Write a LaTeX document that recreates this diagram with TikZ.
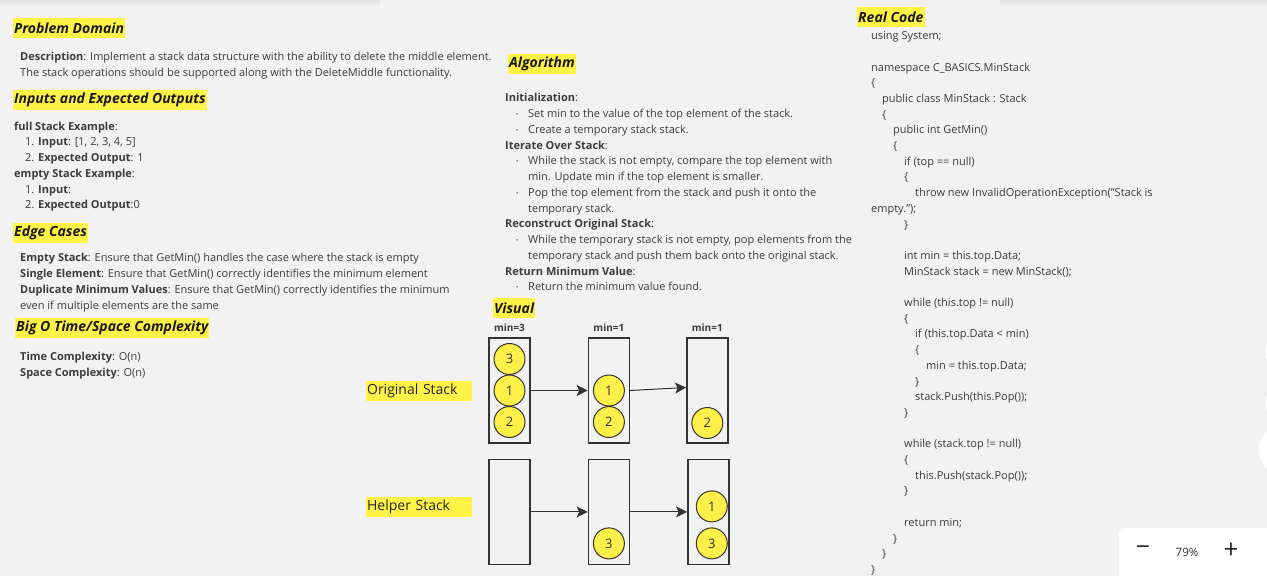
\documentclass[tikz,border=0pt]{standalone}
\usepackage{fontspec}
\setmainfont{Open Sans}
\usetikzlibrary{shapes.geometric, arrows.meta, positioning}

\definecolor{pagebg}{HTML}{F2F2F2}
\definecolor{hilite}{HTML}{FFF347}
\definecolor{ballc}{HTML}{FFF04A}
\definecolor{edge}{HTML}{333333}
\definecolor{ink}{HTML}{3C3C3C}

\newcommand\bitem{\hspace*{11pt}\makebox[12pt][l]{\raisebox{1pt}{\scalebox{0.55}{\textbullet}}}}
\newcommand\bcont{\hspace*{23pt}}
\newcommand\lvl[1]{\null\hskip\numexpr#1*11\relax pt\relax\ignorespaces}

\tikzset{
  sechead/.style={fill=hilite, text=black!90, font=\fontsize{14}{16}\selectfont\bfseries\itshape,
    inner xsep=1pt, inner ysep=0pt, minimum height=20pt, anchor=west},
  txt/.style={anchor=north west, align=left, inner sep=0pt, text=ink, font=\fontsize{11}{15.75}\selectfont},
  stk/.style={draw=edge, line width=1.4pt, minimum width=41pt, minimum height=105pt, inner sep=0pt},
  ball/.style={circle, draw=edge, fill=ballc, line width=1pt, minimum size=31pt, inner sep=0pt,
    text=edge, font=\fontsize{13}{15}\selectfont},
  minlbl/.style={font=\fontsize{10}{12}\selectfont\bfseries, text=ink, inner sep=0pt},
  stacktag/.style={fill=hilite, text=black!85, font=\fontsize{14}{16}\selectfont, inner xsep=1pt,
    inner ysep=0pt, minimum height=20pt, text width=104pt, align=left},
  flow/.style={draw=edge, line width=1pt, -{Stealth[length=11pt, width=11pt, inset=2.5pt]}}
}

\begin{document}
\begin{tikzpicture}[x=1pt, y=-1pt]
    \useasboundingbox (0,0) rectangle (1267,576);
    \fill[pagebg] (0,0) rectangle (1267,576);
    \shade[top color=black!12, bottom color=pagebg] (0,0) rectangle (380,6);
    \shade[top color=black!12, bottom color=pagebg] (1000,0) rectangle (1267,6);

    % left column
    \node[sechead] (pd) at (13,28) {Problem Domain};
    \node[txt] (desc) at (20,52.4) {\textbf{Description}: Implement a stack data structure with the ability to delete the middle element.\\
        The stack operations should be supported along with the DeleteMiddle functionality.};
    \node[sechead] (io) at (13,100) {Inputs and Expected Outputs};
    \node[txt] (ex) at (14,121.4) {\textbf{full Stack Example}:\\
        \hspace*{11pt}1. \textbf{Input}: [1, 2, 3, 4, 5]\\
        \hspace*{11pt}2. \textbf{Expected Output}: 1\\
        \textbf{empty Stack Example}:\\
        \hspace*{11pt}1. \textbf{Input}:\\
        \hspace*{11pt}2. \textbf{Expected Output}:0};
    \node[sechead] (ec) at (13,233) {Edge Cases};
    \node[txt] (cases) at (20,253.4) {\textbf{Empty Stack}: Ensure that GetMin() handles the case where the stack is empty\\
        \textbf{Single Element}: Ensure that GetMin() correctly identifies the minimum element\\
        \textbf{Duplicate Minimum Values}: Ensure that GetMin() correctly identifies the minimum\\
        even if multiple elements are the same};
    \node[sechead] (bigo) at (15,328) {Big O Time/Space Complexity};
    \node[txt] (cx) at (20,352.4) {\textbf{Time Complexity}: O(n)\\
        \textbf{Space Complexity}: O(n)};

    % algorithm
    \node[sechead] (alg) at (508,64) {Algorithm};
    \node[txt] (steps) at (505,93.4) {\textbf{Initialization}:\\
        \bitem Set min to the value of the top element of the stack.\\
        \bitem Create a temporary stack stack.\\
        \textbf{Iterate Over Stack}:\\
        \bitem While the stack is not empty, compare the top element with\\
        \bcont min. Update min if the top element is smaller.\\
        \bitem Pop the top element from the stack and push it onto the\\
        \bcont temporary stack.\\
        \textbf{Reconstruct Original Stack}:\\
        \bitem While the temporary stack is not empty, pop elements from the\\
        \bcont temporary stack and push them back onto the original stack.\\
        \textbf{Return Minimum Value}:\\
        \bitem Return the minimum value found.};

    % visual
    \node[sechead] (vis) at (493,308) {Visual};
    \node[stk] (o1) at (509.5,390.5) {};
    \node[stk, right=57pt of o1] (o2) {};
    \node[stk, right=56pt of o2] (o3) {};
    \node[stk, below=15pt of o1] (h1) {};
    \node[stk, below=15pt of o2] (h2) {};
    \node[stk, below=15pt of o3, xshift=1pt] (h3) {};
    \node[minlbl, above=6pt of o1] (m1) {min=3};
    \node[minlbl, above=6pt of o2] (m2) {min=1};
    \node[minlbl, above=6pt of o3] (m3) {min=1};
    \node[stacktag, left=16pt of o1] (otag) {Original Stack};
    \node[stacktag, left=16pt of h1, yshift=5pt] (htag) {Helper Stack};

    \node[ball] (o1a) at ([yshift=31.5pt]o1.center) {3};
    \node[ball] (o1b) at (o1.center) {1};
    \node[ball] (o1c) at ([yshift=-31.5pt]o1.center) {2};
    \node[ball] (o2b) at (o2.center) {1};
    \node[ball] (o2c) at ([yshift=-31.5pt]o2.center) {2};
    \node[ball] (o3c) at ([yshift=-32.5pt]o3.center) {2};
    \node[ball] (h2c) at ([yshift=-31.5pt]h2.center) {3};
    \node[ball] (h3b) at ([xshift=3.5pt,yshift=5.5pt]h3.center) {1};
    \node[ball] (h3c) at ([xshift=3.5pt,yshift=-31.5pt]h3.center) {3};

    \draw[flow] (o1) -- (o2);
    \draw[flow] (o2.east) -- ([yshift=3pt]o3.west);
    \draw[flow] (h1) -- (h2);
    \draw[flow] (h2) -- (h3);

    % real code
    \node[sechead] (rc) at (857,17) {Real Code};
    \node[txt, font=\fontsize{11}{15.7}\selectfont] (code) at (871,31.4) {using System;\\
        \null\\
        namespace C\_BASICS.MinStack\\
        \{\\
        \lvl1 public class MinStack : Stack\\
        \lvl1 \{\\
        \lvl2 public int GetMin()\\
        \lvl2 \{\\
        \lvl3 if (top == null)\\
        \lvl3 \{\\
        \lvl4 throw new InvalidOperationException("Stack is\\
        empty.");\\
        \lvl3 \}\\
        \null\\
        \lvl3 int min = this.top.Data;\\
        \lvl3 MinStack stack = new MinStack();\\
        \null\\
        \lvl3 while (this.top != null)\\
        \lvl3 \{\\
        \lvl4 if (this.top.Data < min)\\
        \lvl4 \{\\
        \lvl5 min = this.top.Data;\\
        \lvl4 \}\\
        \lvl4 stack.Push(this.Pop());\\
        \lvl3 \}\\
        \null\\
        \lvl3 while (stack.top != null)\\
        \lvl3 \{\\
        \lvl4 this.Push(stack.Pop());\\
        \lvl3 \}\\
        \null\\
        \lvl3 return min;\\
        \lvl2 \}\\
        \lvl1 \}\\
        \}};

    % viewer bits on the right edge
    \fill[white, draw=black!6] (1285,353) circle (20);
    \fill[white, draw=black!6] (1285,402) circle (20);
    \fill[white, draw=black!6] (1283,450) circle (25);
    \node[fill=white, rounded corners=4pt, minimum width=170pt, minimum height=56pt, anchor=north west] (zoombox) at (1119,528) {};
    \node[text=black!85, font=\fontsize{25}{26}\selectfont] (zminus) at (1143,551) {−};
    \node[text=black!80, font=\fontsize{11.5}{13}\selectfont] (zpct) at (1187,552) {79\%};
    \node[text=black!85, font=\fontsize{26}{28}\selectfont] (zplus) at (1231,551) {+};
\end{tikzpicture}
\end{document}
